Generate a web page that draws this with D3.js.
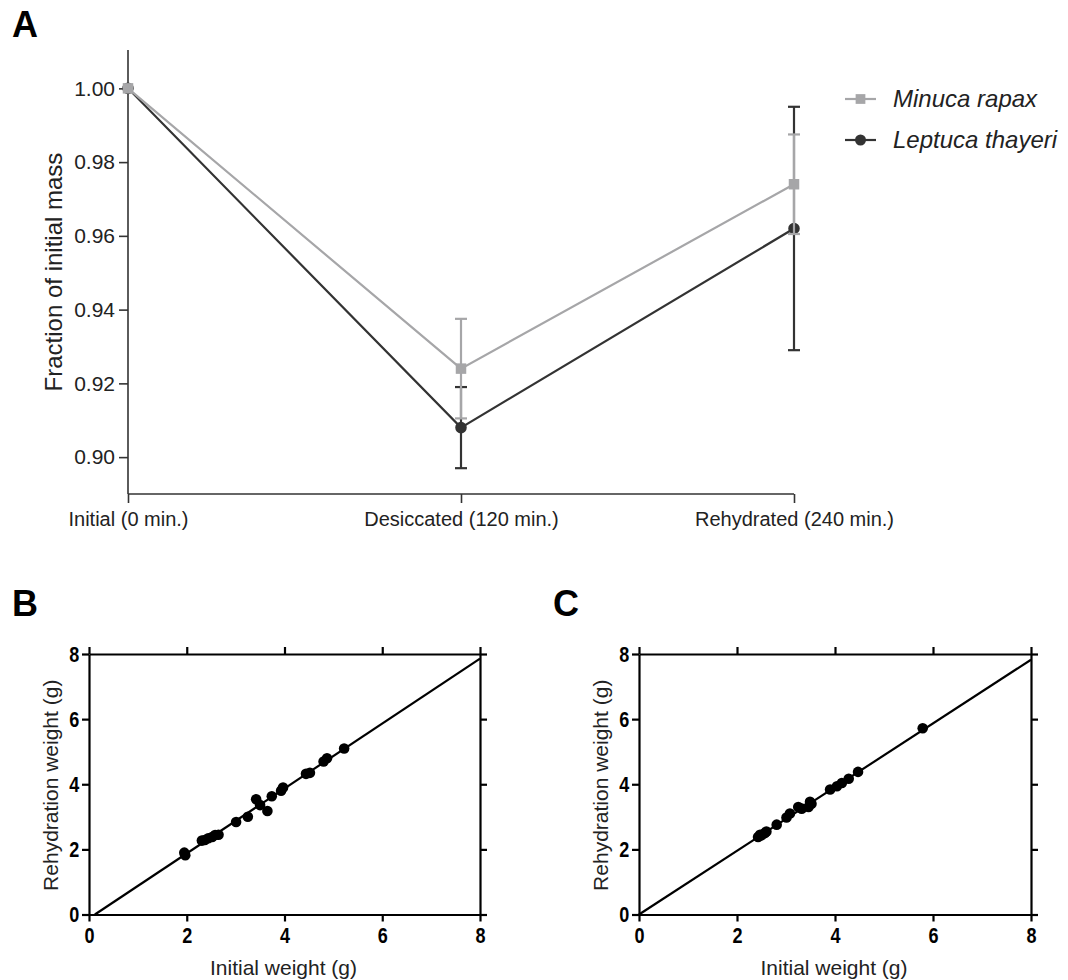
<!DOCTYPE html>
<html>
<head>
<meta charset="utf-8">
<script src="https://cdn.jsdelivr.net/npm/d3@7"></script>
<style>
  body { margin: 0; background: #fff; }
  svg { display: block; }
  text { font-family: Arial, "Liberation Sans", Helvetica, sans-serif; }
</style>
</head>
<body>
<svg id="fig" width="1068" height="980"></svg>
<script>
// panel A data
var categories = ["Initial (0 min.)", "Desiccated (120 min.)", "Rehydrated (240 min.)"];
var minucaMean = [1.000, 0.924, 0.974];
var minucaErr  = [0, 0.0135, 0.0135];
var leptucaMean = [1.000, 0.908, 0.962];
var leptucaErr  = [0, 0.011, 0.033];
var yTicksA = [0.90, 0.92, 0.94, 0.96, 0.98, 1.00];
var seriesNames = ["Minuca rapax", "Leptuca thayeri"];

// panel B data
var bInitial = [1.95, 1.97, 2.31, 2.37, 2.44, 2.52, 2.58, 2.65, 3.01, 3.25, 3.42, 3.50, 3.65, 3.74, 3.93, 3.97, 4.44, 4.52, 4.80, 4.87, 5.22];
var bRehyd   = [1.90, 1.82, 2.27, 2.29, 2.34, 2.38, 2.44, 2.45, 2.84, 3.00, 3.54, 3.36, 3.18, 3.63, 3.80, 3.90, 4.32, 4.35, 4.70, 4.80, 5.10];
var bFit = [-0.12, 0.9975]; // intercept, slope

// panel C data
var cInitial = [2.43, 2.47, 2.50, 2.57, 2.60, 2.81, 3.01, 3.08, 3.25, 3.32, 3.46, 3.49, 3.52, 3.90, 4.04, 4.14, 4.28, 4.47, 5.79];
var cRehyd   = [2.38, 2.45, 2.43, 2.50, 2.55, 2.76, 2.98, 3.10, 3.30, 3.25, 3.30, 3.46, 3.40, 3.84, 3.94, 4.04, 4.17, 4.38, 5.72];
var cFit = [0, 0.978];

var weightTicks = [0, 2, 4, 6, 8];

var grayColor = "#a6a6a8";
var darkColor = "#333333";

var svg = d3.select("#fig");

// panel letters
[["A", 12, 37], ["B", 12, 616], ["C", 553, 616]].forEach(function(l){
	svg.append("text").attr("x", l[1]).attr("y", l[2])
		.attr("font-size", 36).attr("font-weight", "bold").text(l[0]);
});

// ---------- panel A ----------
var xA = d3.scalePoint().domain(categories).range([128, 794]);
var yA = d3.scaleLinear().domain([0.89, 1.0104]).range([494, 50]);

var gA = svg.append("g");
var axL = gA.append("g").attr("transform", "translate(128,0)")
	.call(d3.axisLeft(yA).tickValues(yTicksA).tickFormat(d3.format(".2f"))
		.tickSize(9).tickSizeOuter(0).tickPadding(4));
var axB = gA.append("g").attr("transform", "translate(0,494)")
	.call(d3.axisBottom(xA).tickSize(9).tickSizeOuter(0).tickPadding(9));
[axL, axB].forEach(function(a){
	a.selectAll("path, line").attr("stroke", darkColor).attr("stroke-width", 1.6);
	a.selectAll("text").attr("fill", "#222").style("font-family", "Arial, 'Liberation Sans', sans-serif");
});
axL.select(".domain").attr("d", "M0,494V50");
axB.select(".domain").attr("d", "M128,0H794");
axL.selectAll("text").attr("font-size", 21);
axB.selectAll("text").attr("font-size", 20);

gA.append("text")
	.attr("transform", "translate(62,272) rotate(-90)")
	.attr("text-anchor", "middle").attr("font-size", 24).attr("fill", "#222")
	.text("Fraction of initial mass");

function drawSeries(means, errs, color, shape){
	var g = gA.append("g");
	var pts = means.map(function(m, i){ return {c: categories[i], m: m, e: errs[i]}; });
	pts.filter(function(d){ return d.e > 0; }).forEach(function(d){
		var x = xA(d.c);
		g.append("line").attr("x1", x).attr("x2", x)
			.attr("y1", yA(d.m + d.e)).attr("y2", yA(d.m - d.e))
			.attr("stroke", color).attr("stroke-width", 2.2);
		[d.m + d.e, d.m - d.e].forEach(function(v){
			g.append("line").attr("x1", x - 6).attr("x2", x + 6)
				.attr("y1", yA(v)).attr("y2", yA(v))
				.attr("stroke", color).attr("stroke-width", 2.2);
		});
	});
	g.append("path").datum(pts)
		.attr("d", d3.line().x(function(d){ return xA(d.c); }).y(function(d){ return yA(d.m); }))
		.attr("fill", "none").attr("stroke", color).attr("stroke-width", 2.2);
	g.selectAll(".mk").data(pts).enter()
		.append("path")
		.attr("transform", function(d){ return "translate(" + xA(d.c) + "," + yA(d.m) + ")"; })
		.attr("d", d3.symbol().type(shape).size(shape === d3.symbolSquare ? 110 : 105))
		.attr("fill", color);
}
drawSeries(leptucaMean, leptucaErr, darkColor, d3.symbolCircle);
drawSeries(minucaMean, minucaErr, grayColor, d3.symbolSquare);

// legend
var legend = gA.append("g");
[[grayColor, d3.symbolSquare], [darkColor, d3.symbolCircle]].forEach(function(s, i){
	var y = 99 + i * 41;
	legend.append("line").attr("x1", 845).attr("x2", 876).attr("y1", y).attr("y2", y)
		.attr("stroke", s[0]).attr("stroke-width", 2.2);
	legend.append("path").attr("transform", "translate(860.5," + y + ")")
		.attr("d", d3.symbol().type(s[1]).size(95)).attr("fill", s[0]);
	legend.append("text").attr("x", 893).attr("y", y + 8)
		.attr("font-size", 24).attr("font-style", "italic").attr("fill", "#222")
		.text(seriesNames[i]);
});

// ---------- panels B & C ----------
function scatterPanel(xs, ys, fit, left, right){
	var top = 654, bottom = 914.5;
	var x = d3.scaleLinear().domain([0, 8]).range([left, right]);
	var y = d3.scaleLinear().domain([0, 8]).range([bottom, top]);
	var g = svg.append("g");

	var axes = [
		g.append("g").attr("transform", "translate(" + left + ",0)")
			.call(d3.axisLeft(y).tickValues(weightTicks).tickSize(7).tickSizeOuter(0).tickPadding(5)),
		g.append("g").attr("transform", "translate(0," + bottom + ")")
			.call(d3.axisBottom(x).tickValues(weightTicks).tickSize(7).tickSizeOuter(0).tickPadding(6)),
		g.append("g").attr("transform", "translate(" + right + ",0)")
			.call(d3.axisRight(y).tickValues(weightTicks).tickSize(7).tickSizeOuter(0).tickFormat("")),
		g.append("g").attr("transform", "translate(0," + top + ")")
			.call(d3.axisTop(x).tickValues(weightTicks).tickSize(7).tickSizeOuter(0).tickFormat(""))
	];
	axes.forEach(function(a){
		a.selectAll("path, line").attr("stroke", "#000").attr("stroke-width", 2.2);
		a.selectAll("text").attr("fill", "#000").attr("font-size", 22).attr("font-weight", "bold")
			.attr("transform", "scale(0.82,1)");
	});

	// fitted line
	var x0 = -fit[0] / fit[1];
	g.append("line")
		.attr("x1", x(x0)).attr("y1", y(fit[0] + fit[1] * x0))
		.attr("x2", x(8)).attr("y2", y(fit[0] + fit[1] * 8))
		.attr("stroke", "#000").attr("stroke-width", 2.2);

	g.selectAll("circle").data(xs).enter().append("circle")
		.attr("cx", function(d){ return x(d); })
		.attr("cy", function(d, i){ return y(ys[i]); })
		.attr("r", 5.3).attr("fill", "#000");

	g.append("text").attr("x", (left + right) / 2 - 1).attr("y", 975)
		.attr("text-anchor", "middle").attr("font-size", 21).attr("fill", "#222")
		.text("Initial weight (g)");
	g.append("text")
		.attr("transform", "translate(" + (left - 31) + "," + ((top + bottom) / 2 + 1) + ") rotate(-90)")
		.attr("text-anchor", "middle").attr("font-size", 21).attr("fill", "#222")
		.text("Rehydration weight (g)");
}
scatterPanel(bInitial, bRehyd, bFit, 89, 480);
scatterPanel(cInitial, cRehyd, cFit, 639, 1031);
</script>
</body>
</html>
